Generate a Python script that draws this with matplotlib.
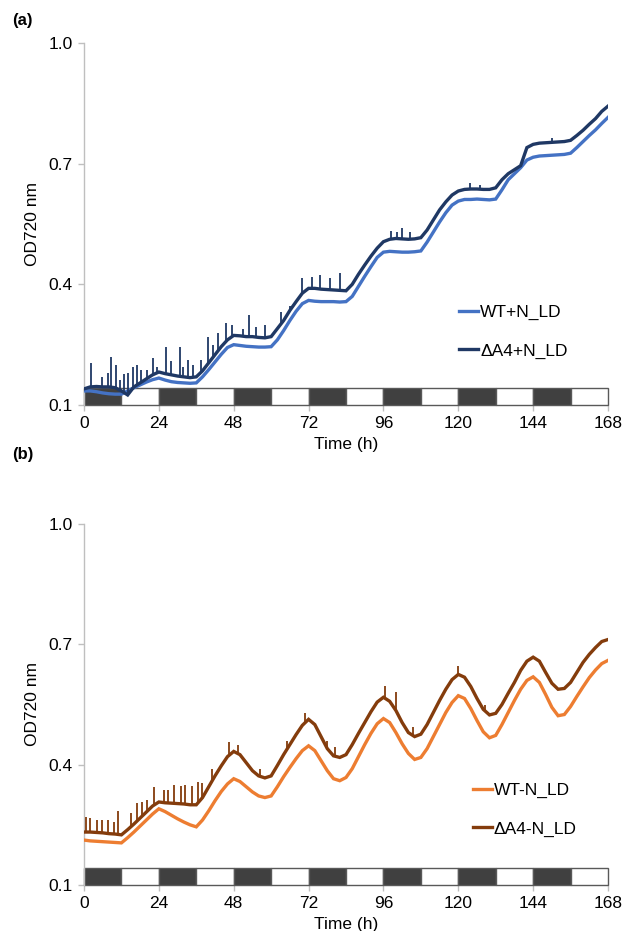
import matplotlib
matplotlib.use("Agg")
import matplotlib.pyplot as plt
from matplotlib.patches import Rectangle
import numpy as np

plt.rcParams['font.family'] = ['Liberation Sans', 'DejaVu Sans']

# ---------------- data ----------------
time_h = list(range(0, 169, 2))

# panel (a): +N, light/dark
wt_plus = [0.135, 0.135, 0.133, 0.130, 0.128, 0.127, 0.127, 0.135, 0.143, 0.150,
           0.157, 0.163, 0.167, 0.162, 0.158, 0.156, 0.155, 0.154, 0.155, 0.170,
           0.188, 0.207, 0.226, 0.243, 0.250, 0.248, 0.246, 0.245, 0.244, 0.244,
           0.245, 0.262, 0.285, 0.310, 0.333, 0.352, 0.360, 0.358, 0.357, 0.357,
           0.357, 0.356, 0.357, 0.370, 0.395, 0.420, 0.444, 0.467, 0.480, 0.482,
           0.481, 0.480, 0.480, 0.481, 0.483, 0.505, 0.530, 0.555, 0.578, 0.597,
           0.607, 0.611, 0.611, 0.612, 0.611, 0.610, 0.612, 0.635, 0.660, 0.675,
           0.690, 0.709, 0.716, 0.719, 0.720, 0.721, 0.722, 0.723, 0.726, 0.740,
           0.755, 0.770, 0.784, 0.800, 0.815]
da4_plus = [0.140, 0.145, 0.146, 0.145, 0.145, 0.143, 0.135, 0.125, 0.145, 0.155,
            0.165, 0.175, 0.182, 0.178, 0.175, 0.172, 0.170, 0.168, 0.170, 0.185,
            0.205, 0.225, 0.245, 0.262, 0.273, 0.272, 0.270, 0.270, 0.268, 0.267,
            0.270, 0.290, 0.310, 0.335, 0.357, 0.378, 0.390, 0.390, 0.388, 0.387,
            0.386, 0.385, 0.384, 0.400, 0.425, 0.448, 0.470, 0.490, 0.506, 0.512,
            0.514, 0.513, 0.512, 0.513, 0.516, 0.535, 0.560, 0.585, 0.605, 0.622,
            0.632, 0.636, 0.637, 0.637, 0.636, 0.636, 0.640, 0.660, 0.675, 0.685,
            0.695, 0.740, 0.748, 0.751, 0.752, 0.753, 0.754, 0.755, 0.758, 0.770,
            0.783, 0.798, 0.812, 0.830, 0.843]
# visible noise spikes of the ΔA4+N_LD trace (time, peak OD)
da4_plus_spike_t = [2.4, 5.9, 7.7, 8.8, 10.2, 11.6, 12.8, 14.2, 15.8, 16.9, 18.4,
                    20.1, 22.2, 23.5, 26.2, 28.0, 30.7, 31.6, 33.4, 35.0, 37.5,
                    39.9, 41.5, 43.1, 45.6, 47.4, 51.1, 52.8, 55.0, 58.0, 63.0,
                    66.0, 69.9, 73.1, 75.8, 79.0, 82.0, 98.3, 100.2, 102.0, 104.5,
                    123.9, 127.0, 150.2]
da4_plus_spike_v = [0.204, 0.169, 0.180, 0.219, 0.200, 0.162, 0.176, 0.180, 0.195,
                    0.199, 0.187, 0.187, 0.216, 0.195, 0.245, 0.210, 0.244, 0.195,
                    0.212, 0.200, 0.212, 0.270, 0.250, 0.280, 0.305, 0.300, 0.290,
                    0.324, 0.295, 0.300, 0.330, 0.345, 0.415, 0.419, 0.423, 0.415,
                    0.428, 0.533, 0.530, 0.540, 0.530, 0.651, 0.648, 0.763]

# panel (b): -N, light/dark
wt_minus = [0.212, 0.210, 0.209, 0.208, 0.207, 0.206, 0.205, 0.218, 0.232, 0.247,
            0.262, 0.277, 0.290, 0.283, 0.274, 0.265, 0.257, 0.250, 0.245, 0.262,
            0.285, 0.310, 0.333, 0.352, 0.365, 0.358, 0.345, 0.332, 0.322, 0.318,
            0.322, 0.345, 0.370, 0.393, 0.415, 0.435, 0.447, 0.435, 0.410, 0.385,
            0.365, 0.360, 0.368, 0.390, 0.420, 0.450, 0.478, 0.502, 0.515, 0.505,
            0.480, 0.452, 0.428, 0.413, 0.418, 0.440, 0.470, 0.500, 0.530, 0.555,
            0.572, 0.565, 0.540, 0.510, 0.482, 0.467, 0.473, 0.500, 0.530, 0.560,
            0.588, 0.610, 0.619, 0.605, 0.575, 0.543, 0.522, 0.525, 0.545, 0.570,
            0.594, 0.617, 0.636, 0.652, 0.660]
da4_minus = [0.232, 0.232, 0.231, 0.230, 0.228, 0.227, 0.225, 0.238, 0.252, 0.267,
             0.282, 0.297, 0.307, 0.305, 0.304, 0.303, 0.302, 0.300, 0.300, 0.318,
             0.345, 0.372, 0.397, 0.420, 0.433, 0.425, 0.405, 0.385, 0.372, 0.367,
             0.372, 0.398, 0.425, 0.450, 0.475, 0.498, 0.513, 0.500, 0.470, 0.440,
             0.422, 0.418, 0.425, 0.450, 0.478, 0.505, 0.532, 0.556, 0.568, 0.558,
             0.535, 0.505, 0.480, 0.470, 0.476, 0.500, 0.530, 0.560, 0.588, 0.612,
             0.625, 0.618, 0.595, 0.565, 0.538, 0.524, 0.528, 0.550, 0.578, 0.605,
             0.635, 0.658, 0.668, 0.658, 0.630, 0.603, 0.588, 0.590, 0.605, 0.630,
             0.655, 0.675, 0.692, 0.707, 0.712]
da4_minus_spike_t = [0.5, 1.9, 4.3, 5.9, 7.7, 9.6, 10.9, 15.0, 16.9, 18.7, 20.3,
                     22.5, 25.5, 26.8, 28.7, 31.0, 32.4, 34.5, 36.4, 37.7, 41.0,
                     46.6, 49.5, 56.5, 65.0, 71.0, 78.0, 80.5, 96.5, 100.0, 105.5,
                     120.0, 128.5]
da4_minus_spike_v = [0.270, 0.266, 0.262, 0.262, 0.263, 0.258, 0.285, 0.280, 0.304,
                     0.306, 0.312, 0.344, 0.336, 0.337, 0.349, 0.347, 0.350, 0.347,
                     0.358, 0.355, 0.390, 0.457, 0.450, 0.390, 0.460, 0.530, 0.460,
                     0.445, 0.595, 0.580, 0.495, 0.645, 0.548]

# light/dark phases (12 h each); 1 = dark
phase_start = list(range(0, 168, 12))
phase_dark = [1, 0, 1, 0, 1, 0, 1, 0, 1, 0, 1, 0, 1, 0]

x_ticks = [0, 24, 48, 72, 96, 120, 144, 168]
y_ticks = [0.1, 0.4, 0.7, 1.0]
y_tick_labels = ['0.1', '0.4', '0.7', '1.0']

# ---------------- drawing ----------------
GRAY = '#BFBFBF'
FS = 12.5


def style_axes(ax):
    ax.set_xlim(0, 168)
    ax.set_ylim(0.1, 1.0)
    ax.set_yticks(y_ticks)
    ax.set_yticklabels(y_tick_labels)
    ax.set_xticks(x_ticks)
    for s in ['top', 'right', 'bottom']:
        ax.spines[s].set_visible(False)
    ax.spines['left'].set_color(GRAY)
    ax.spines['left'].set_linewidth(1.0)
    ax.tick_params(axis='both', colors=GRAY, labelcolor='black', labelsize=FS,
                   direction='out', length=4, width=1.0)
    ax.tick_params(axis='x', pad=4)
    ax.tick_params(axis='y', pad=4)
    ax.set_xlabel('Time (h)', fontsize=FS, labelpad=4)
    ax.set_ylabel('OD720 nm', fontsize=FS, labelpad=6)
    for st, dk in zip(phase_start, phase_dark):
        ax.add_patch(Rectangle((st, 0.1), 12, 0.043,
                               facecolor='#404040' if dk else 'white',
                               edgecolor='#595959', linewidth=1.0,
                               zorder=2, clip_on=False))


def trace(ax, t, v, color, lw, label, z, spike_t=None, spike_v=None):
    ax.plot(t, v, color=color, lw=lw, zorder=z, label=label,
            solid_joinstyle='miter')
    if spike_t is not None:
        base = np.interp(spike_t, t, v)
        ax.vlines(spike_t, base, spike_v, color=color, lw=1.3, zorder=z)


W, H = 623, 931
fig = plt.figure(figsize=(W / 100, H / 100), dpi=100)

left = 84 / W
width = (608 - 84) / W
ax1 = fig.add_axes([left, 1 - 405 / H, width, (405 - 43) / H])
ax2 = fig.add_axes([left, 1 - 885 / H, width, (885 - 524) / H])

# panel (a)
trace(ax1, time_h, wt_plus, '#4472C4', 2.4, 'WT+N_LD', 3)
trace(ax1, time_h, da4_plus, '#1F3864', 2.4, 'ΔA4+N_LD', 4,
      da4_plus_spike_t, da4_plus_spike_v)
style_axes(ax1)
ax1.legend(loc='center left', bbox_to_anchor=(0.716, 0.203), frameon=False,
           fontsize=FS, handlelength=1.1, handletextpad=0.1, labelspacing=1.35,
           borderpad=0, borderaxespad=0)

# panel (b)
trace(ax2, time_h, wt_minus, '#ED7D31', 2.4, 'WT-N_LD', 3)
trace(ax2, time_h, da4_minus, '#843C0C', 2.4, 'ΔA4-N_LD', 4,
      da4_minus_spike_t, da4_minus_spike_v)
style_axes(ax2)
ax2.legend(loc='center left', bbox_to_anchor=(0.742, 0.209), frameon=False,
           fontsize=FS, handlelength=1.1, handletextpad=0.1, labelspacing=1.35,
           borderpad=0, borderaxespad=0)

fig.text(12 / W, 1 - 20 / H, '(a)', fontsize=12, fontweight='bold', va='center', ha='left')
fig.text(12 / W, 1 - 455 / H, '(b)', fontsize=12, fontweight='bold', va='center', ha='left')

fig.savefig('out.png', dpi=100)
